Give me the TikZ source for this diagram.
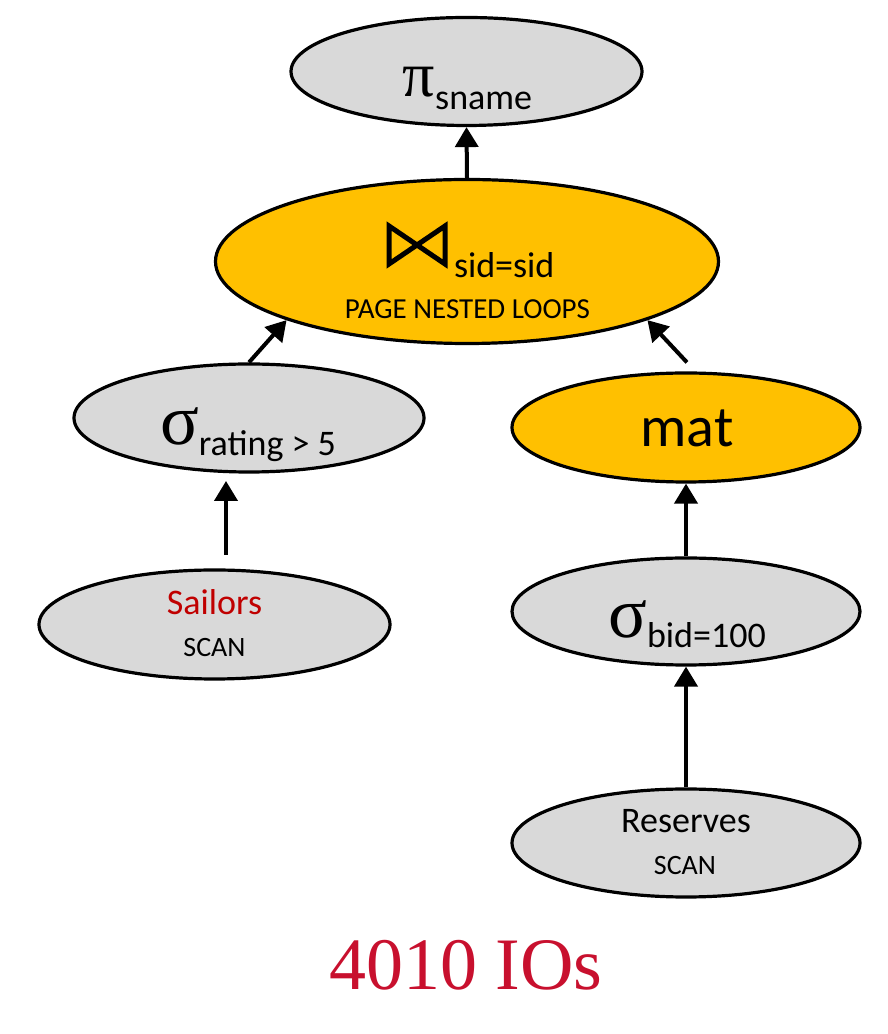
\documentclass[tikz,border=0pt]{standalone}
\usepackage{fontspec}
\setmainfont{Carlito}
\newfontfamily\greekfont{Liberation Serif}
\newfontfamily\costfont{Liberation Serif}
\usetikzlibrary{arrows.meta,shapes.geometric,calc}
\definecolor{opgray}{HTML}{D9D9D9}
\definecolor{opgold}{HTML}{FFC000}
\definecolor{sailred}{RGB}{192,0,0}
\definecolor{costred}{RGB}{200,16,46}
\newcommand\setfs[1]{\fontsize{#1}{#1}\selectfont}
\begin{document}
\begin{tikzpicture}[x=1pt,y=1pt,
  opnode/.style={ellipse, draw=black, line width=3.2pt, fill=opgray, inner sep=0pt},
  goldnode/.style={opnode, fill=opgold},
  lbl/.style={anchor=base, inner sep=0pt, outer sep=0pt},
  uparrow/.style={line width=4pt, -{Triangle[length=20pt,width=23pt]}}]
\useasboundingbox (0,0) rectangle (888,1034);
% operator ellipses
\node[opnode, minimum width=351pt, minimum height=108pt] (pi) at (466.5,962.5) {};
\node[goldnode, minimum width=503pt, minimum height=164pt] (join) at (467,772.5) {};
\node[opnode, minimum width=350pt, minimum height=108pt] (srating) at (249,616) {};
\node[goldnode, minimum width=348pt, minimum height=109pt] (mat) at (686,606.5) {};
\node[opnode, minimum width=351pt, minimum height=109pt] (sailors) at (214.5,409.5) {};
\node[opnode, minimum width=348pt, minimum height=107pt] (sbid) at (686,422.5) {};
\node[opnode, minimum width=348pt, minimum height=108pt] (reserves) at (686,191) {};
% labels
\node[lbl] (pitxt) at (467.5,937) {{\greekfont\setfs{64}π}\raisebox{-13pt}{\setfs{36}sname}};
\draw[line width=5pt, line join=miter] (389,808) -- (445,770) -- (445,808) -- (389,770) -- cycle;
\node[lbl, anchor=base west] (jointxt) at (454,756) {\setfs{36}sid=sid};
\node[lbl] (algtxt) at (467.5,715) {\setfs{29}PAGE NESTED LOOPS};
\node[lbl] (srtxt) at (248,589) {{\greekfont\setfs{72}σ}\raisebox{-11pt}{\setfs{36}rating > 5}};
\node[lbl] (mattxt) at (687,587) {\setfs{58}mat};
\node[lbl, text=sailred] (sailtxt) at (214.5,419) {\setfs{36}Sailors};
\node[lbl] (sailscan) at (214.5,377) {\setfs{28}SCAN};
\node[lbl] (sbtxt) at (687,396) {{\greekfont\setfs{72}σ}\raisebox{-10pt}{\setfs{36}bid=100}};
\node[lbl] (restxt) at (686,201) {\setfs{36}Reserves};
\node[lbl] (resscan) at (685,159) {\setfs{28}SCAN};
\node[lbl, text=costred] (cost) at (466,44) {\costfont\setfs{74}4010 IOs};
% connectors
\coordinate (sailtop) at (226,479);
\coordinate (srbottom) at (226,553);
\coordinate (mattop) at ($(mat.north)+(1,9)$);
\draw[uparrow] (join.north) -- (pi.south);
\draw[uparrow] (srating.north) -- (join.198);
\draw[uparrow] (mattop) -- (join.342);
\draw[uparrow] (sailtop) -- (srbottom);
\draw[uparrow] (sbid.north) -- (mat.south);
\draw[uparrow] (reserves.north) -- (sbid.south);
\end{tikzpicture}
\end{document}
